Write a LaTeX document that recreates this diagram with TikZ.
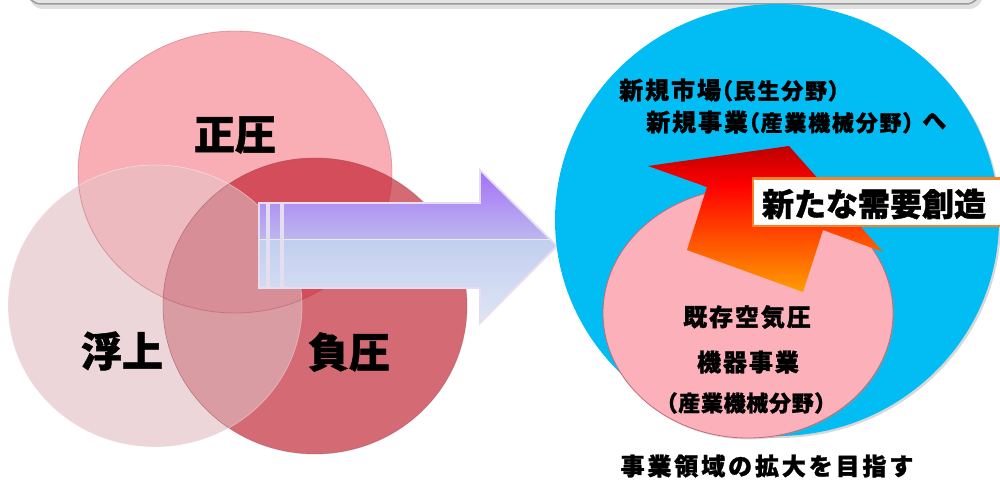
\documentclass[tikz,border=0pt]{standalone}
\usepackage{fontspec}
\newfontfamily\jp{Noto Sans CJK JP}[FakeBold=1.2]
\newfontfamily\jpp{Noto Sans CJK JP}[RawFeature=+palt, FakeBold=1.2]
\definecolor{cA}{HTML}{F9ADB5}
\definecolor{cB}{HTML}{ECD6D9}
\definecolor{cC}{HTML}{D46A74}
\definecolor{cAB}{HTML}{EDBABF}
\definecolor{cAC}{HTML}{D34D5B}
\definecolor{cBC}{HTML}{D89CA2}
\definecolor{cABC}{HTML}{D88E96}
\definecolor{skyb}{HTML}{02BCF4}
\definecolor{pinkc}{HTML}{FBB0BA}
\definecolor{pinkedge}{HTML}{C46A78}
\definecolor{arrtop}{HTML}{A470F8}
\definecolor{arrmidtop}{HTML}{BDB8EE}
\definecolor{arrmidbot}{HTML}{C2CEEE}
\definecolor{arrbot}{HTML}{DFE5F6}
\definecolor{arredge}{HTML}{E4DEF0}
\definecolor{dred}{HTML}{B40000}
\definecolor{bred}{HTML}{FF0000}
\definecolor{oran}{HTML}{FFA200}
\definecolor{boxedge}{HTML}{F98025}
\definecolor{barfill}{HTML}{E4E4E4}
\definecolor{baredge}{HTML}{9B9B9B}
\begin{document}
\begin{tikzpicture}[x=1pt,y=-1pt,
  bigjp/.style={inner sep=0pt, font=\jp\bfseries\fontsize{41}{41}\selectfont},
  midjp/.style={inner sep=0pt, font=\jp\bfseries\fontsize{24}{24}\selectfont\addfontfeatures{LetterSpace=8}},
  toptxt/.style={inner sep=0pt, anchor=west, font=\jpp\bfseries\fontsize{24}{24}\selectfont\addfontfeatures{LetterSpace=8}},
  circedge/.style={line width=0.8pt, draw opacity=0.35}]
\useasboundingbox (0,0) rectangle (1000,481);
% top bar
\fill[black!12, rounded corners=14] (29,-40) rectangle (983,9);
\draw[fill=barfill, draw=baredge, line width=1.5pt, rounded corners=14] (27,-40) rectangle (980,4);
% left circles
\def\cirA{(235,172) ellipse [x radius=157, y radius=141]}
\def\cirB{(155,306) ellipse [x radius=147, y radius=141]}
\def\cirC{(315,306) ellipse [x radius=152, y radius=148]}
\fill[cA] \cirA;
\fill[cB] \cirB;
\fill[cC] \cirC;
\begin{scope}\clip \cirA; \fill[cAB] \cirB; \end{scope}
\begin{scope}\clip \cirA; \fill[cAC] \cirC; \end{scope}
\begin{scope}\clip \cirB; \fill[cBC] \cirC; \end{scope}
\begin{scope}\clip \cirA; \clip \cirB; \fill[cABC] \cirC; \end{scope}
\draw[circedge, draw=cAC!80!black] \cirA;
\draw[circedge, draw=cC!70!black] \cirC;
\draw[circedge, draw=white] \cirB;
\node[bigjp] (seiatsu) at (235,135) {正圧};
\node[bigjp] (fujo) at (122,351) {浮上};
\node[bigjp] (fuatsu) at (349,352) {負圧};
% big arrow
\def\arrpath{(283,203) -- (480,203) -- (480,170) -- (557,246) -- (480,323) -- (480,288) -- (283,288) -- cycle}
\def\barone{(259,203) rectangle (267,288)}
\def\bartwo{(269,203) rectangle (281,288)}
\begin{scope}
  \clip \arrpath \barone \bartwo;
  \shade[top color=arrtop, bottom color=arrmidtop] (255,170) rectangle (560,239.5);
  \shade[top color=arrmidbot, bottom color=arrbot] (255,239) rectangle (560,323);
  \draw[white, opacity=0.6, line width=0.8pt] (259,239) -- (557,239);
\end{scope}
\draw[arredge, line width=1.8pt, line join=miter] \arrpath;
\draw[arredge, line width=1.5pt] \barone;
\draw[arredge, line width=1.5pt] \bartwo;
% right side
\fill[black!30, opacity=0.5] (779,222) ellipse [x radius=222, y radius=216];
\fill[skyb] (777,220) ellipse [x radius=222, y radius=216];
\fill[black!40, opacity=0.35] (749.5,314.5) ellipse [x radius=145, y radius=125];
\filldraw[fill=pinkc, draw=pinkedge, line width=0.8pt] (748,313) ellipse [x radius=145, y radius=125];
% red-orange arrow
\def\upar{(648,166) -- (789,146) -- (883,252) -- (823,230) -- (803,292) -- (687,250) -- (707,187) -- cycle}
\begin{scope}
  \clip \upar;
  \shade[top color=dred, bottom color=bred] (640,140) rectangle (890,186);
  \shade[top color=bred, bottom color=oran] (640,185.5) rectangle (890,295);
\end{scope}
\node[draw=boxedge, line width=2pt, fill=white, anchor=west, minimum width=252pt, minimum height=47pt, inner sep=0pt] (newdemand) at (752,202) {};
\node[inner sep=0pt, font=\jp\bfseries\fontsize{32}{32}\selectfont] (newdemandtxt) at (874,204) {新たな需要創造};
% texts in blue circle
\node[toptxt] (line1) at (619,90) {新規市場{\fontsize{22}{22}\selectfont（民生分野）}};
\node[toptxt] (line2) at (646,122) {新規事業{\fontsize{22}{22}\selectfont（産業機械分野）}};
\node[inner sep=0pt, font=\jpp\bfseries\fontsize{24}{24}\selectfont] (line2he) at (934,121) {へ};
% texts in pink circle
\node[midjp] (kizon1) at (747,317) {既存空気圧};
\node[midjp] (kizon2) at (748,362) {機器事業};
\node[inner sep=0pt, font=\jp\bfseries\fontsize{22}{22}\selectfont\addfontfeatures{LetterSpace=3}] (kizon3) at (746,403) {（産業機械分野）};
% bottom text
\node[inner sep=0pt, font=\jp\bfseries\fontsize{24}{24}\selectfont\addfontfeatures{LetterSpace=12}] (goal) at (767,466) {事業領域の拡大を目指す};
\end{tikzpicture}
\end{document}
